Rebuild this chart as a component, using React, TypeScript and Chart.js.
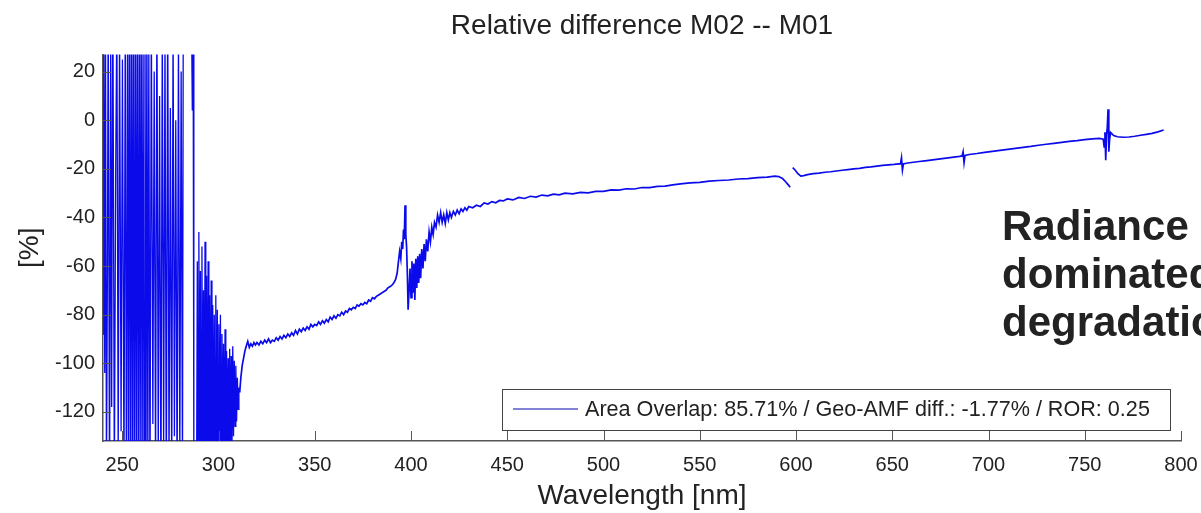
import React, { useEffect, useRef } from 'react';
import { Chart, registerables } from 'chart.js';

Chart.register(...registerables);

const chartTitle = 'Relative difference M02 -- M01';
const xAxisTitle = 'Wavelength [nm]';
const yAxisTitle = '[%]';
const seriesLabel = 'Area Overlap: 85.71% / Geo-AMF diff.: -1.77% / ROR: 0.25';
const overlayLines = ['Radiance', 'dominated', 'degradation'];

const xMin = 240;
const xMax = 800;
const yMin = -132;
const yMax = 27;
const xTicks = [250, 300, 350, 400, 450, 500, 550, 600, 650, 700, 750, 800];
const yTicks = [-120, -100, -80, -60, -40, -20, 0, 20];

// [wavelength nm, relative difference %]
const uvNoise: [number, number | null][] = [
  [240.0, -88], [240.4, 45], [240.9, -104], [241.3, 38], [241.8, -150], [242.3, -60], [242.7, 50],
  [243.4, -160], [244.0, 30], [244.5, -118], [245.1, 60], [245.9, -150], [246.6, -20], [247.2, 45],
  [247.9, -140], [248.6, 40], [249.4, -128], [250.1, 25], [250.9, -150], [251.6, 55], [252.2, -170],
  [252.8, 40], [253.3, -135], [253.8, 60], [254.3, -160], [254.8, 50], [255.3, -150], [255.8, 65],
  [256.3, -170], [256.8, 45], [257.3, -140], [257.8, 60], [258.3, -165], [258.8, 50], [259.3, -150],
  [259.8, 70], [260.3, -160], [260.8, 40], [261.3, -140], [261.8, 55], [262.3, -170], [262.8, 50],
  [263.3, -150], [263.8, 30], [264.4, -160], [265.1, 45], [265.9, -125], [266.6, 20], [267.3, -150],
  [268.0, 50], [268.7, -140], [269.4, 10], [270.1, -160], [270.8, 40], [271.5, -135], [272.2, 35],
  [272.9, -160], [273.6, 55], [274.3, -145], [275.0, 5], [275.7, -150], [276.4, 40], [277.1, -130],
  [277.8, 0], [278.5, -155], [279.2, 35], [279.9, -140], [280.6, 20], [281.3, -150], [281.7, 50],
  [285.9, 50], [286.4, 4], [286.8, 50], [287.2, -150], [288.6, -150], [289.0, -58], [289.4, -150],
  [289.8, -46], [290.2, -160], [290.6, -62], [291.0, -150], [291.4, -52], [291.8, -155], [292.2, -70],
  [292.6, -150], [293.0, -50], [293.4, -145], [293.8, -64], [294.2, -160], [294.6, -58], [295.0, -145],
  [295.4, -72], [295.8, -155], [296.2, -66], [296.6, -150], [297.0, -76], [297.4, -160], [297.8, -80],
  [298.2, -145], [298.6, -72], [299.0, -150], [299.4, -78], [299.8, -155], [300.2, -84], [300.6, -145],
  [301.0, -80], [301.4, -150], [301.8, -88], [302.2, -140], [302.6, -92], [303.0, -150], [303.4, -86],
  [303.8, -145], [304.2, -95], [304.6, -140], [305.0, -98], [305.4, -145], [305.8, -94], [306.2, -138],
  [306.6, -97], [307.0, -135], [307.4, -93], [307.8, -130], [308.2, -99], [308.6, -126], [309.0, -101],
  [309.4, -124], [309.8, -106], [310.2, -119], [310.6, -110],
];

const hartleyRise: [number, number | null][] = [
  [311, -112], [311.6, -106], [312.3, -101], [313, -98], [313.7, -95], [314.4, -93], [315.2, -91],
  [316, -93.5], [316.8, -92], [317.6, -93], [318.4, -91.5], [319.2, -92.5], [320, -91.5], [321, -92.5],
  [322, -91], [323, -92], [324, -90.5], [325, -91.5], [326, -90], [327, -91.5], [328, -90.5], [329, -91],
  [330, -89.5], [331, -90.5], [332, -89], [333, -90], [334, -88.5], [335, -89.5], [336, -88], [337, -89],
  [338, -87.5], [339, -88.5], [340, -86.5], [341, -88], [342, -86], [343, -87], [344, -85.5], [345, -86.5],
  [346, -85], [347, -86], [348, -84], [349, -85], [350, -84], [351, -84.5], [352, -83], [353, -84],
  [354, -82.5], [355, -83.5], [356, -82], [357, -83], [358, -81], [359, -82], [360, -80.5], [361, -81.5],
  [362, -80], [363, -80.5], [364, -79], [365, -80], [366, -78.5], [367, -79], [368, -77.5], [369, -78],
  [370, -77], [371, -77.5], [372, -76], [373, -76.5], [374, -75.5], [375, -76], [376, -75], [377, -75.5],
  [378, -74], [379, -74.5], [380, -73], [381, -73.5], [382, -72.5], [383, -72], [384, -71.5], [385, -71],
  [386, -70.5], [387, -70], [388, -69], [389, -68.5], [390, -68], [391, -67], [392, -65.5], [392.8, -63],
  [393.5, -58], [394.1, -54], [394.7, -57], [395.2, -50], [395.7, -53], [396.1, -45], [396.5, -49],
  [396.9, -35], [397.3, -47], [397.7, -52], [398.1, -63], [398.5, -78],
];

const blueBand: [number, number | null][] = [
  [399.0, -70], [399.5, -61], [400.0, -73], [400.5, -58], [401.0, -71], [401.5, -59], [402.0, -74],
  [402.5, -57], [403.0, -69], [403.5, -56], [404.0, -67], [404.5, -55], [405.0, -65], [405.6, -53],
  [406.2, -61], [406.8, -51], [407.4, -58], [408.0, -49], [408.7, -54], [409.4, -46], [410.1, -50],
  [410.8, -44], [411.5, -47], [412.2, -42], [413.0, -44], [413.8, -39], [414.6, -42], [415.4, -38],
  [416.2, -42], [417.0, -39], [417.8, -42.5], [418.6, -38], [419.4, -41], [420.2, -38], [421, -40],
  [422, -37.5], [423, -39], [424, -37], [425, -38.5], [426, -36.5], [427, -37.5], [428, -36], [429, -37],
  [430, -35.5], [432, -36], [434, -35], [436, -35.5], [438, -34], [440, -34.5], [442, -33.5], [444, -34],
  [446, -33], [448, -33.2], [450, -32.4], [453, -32.8], [456, -31.8], [459, -32.2], [462, -31.3], [465, -31.6],
  [468, -30.8], [471, -31.1], [474, -30.4], [477, -30.7], [480, -30], [484, -30.3], [488, -29.7],
  [492, -29.9], [496, -29.3], [500, -29.3], [504, -28.7], [508, -28.8], [512, -28.2], [516, -28.3],
  [520, -27.7], [524, -27.7], [528, -27.2], [532, -27.1], [536, -26.6], [540, -26.2], [545, -25.8],
  [550, -25.6], [555, -25.1], [560, -24.8], [565, -24.6], [570, -24.2], [575, -24], [580, -23.6],
  [585, -23.4], [589, -23], [591, -23.2], [593, -24], [594.5, -25.2], [596, -26.6], [597, -27.6],
  [597.5, null],
];

const redBand: [number, number | null][] = [
  [598.3, -19.5], [599.5, -20.5], [601, -22], [602.5, -23], [604, -22.8], [606, -22.4], [609, -22],
  [612, -21.8], [615, -21.4], [618, -21.2], [621, -20.9], [624, -20.6], [627, -20.3], [630, -20],
  [633, -19.8], [636, -19.4], [639, -19.2], [642, -18.9], [645, -18.6], [648, -18.4], [651, -18.2],
  [654.3, -17.9], [654.8, -15.5], [655.3, -20.5], [655.8, -18], [658, -17.6], [661, -17.3], [664, -17],
  [667, -16.7], [670, -16.4], [673, -16.1], [676, -15.8], [679, -15.5], [682, -15.2], [685, -14.9],
  [686.3, -14.7], [686.8, -13], [687.3, -17.5], [687.8, -14.5], [690, -14.1], [694, -13.7], [698, -13.2],
  [702, -12.8], [706, -12.4], [710, -12], [714, -11.6], [718, -11.2], [722, -10.8], [726, -10.3],
  [730, -9.9], [734, -9.5], [738, -9.1], [742, -8.7], [746, -8.4], [750, -8], [754, -7.7], [757.5, -7.5],
  [759.6, -7.8], [760.1, -11], [760.5, -5], [760.9, -16.5], [761.3, -6], [761.7, -3], [762.1, 4.5],
  [762.5, -13], [762.9, -8], [763.4, -5], [764, -5.5], [765, -6.3], [767, -6.8], [770, -7], [773, -6.9],
  [776, -6.6], [779, -6.2], [782, -5.8], [785, -5.4], [788, -4.8], [791, -4],
];

const FONT = '"Liberation Sans", Arial, Helvetica, sans-serif';

const decorPlugin = {
  id: 'decor',
  afterDraw(chart: any) {
    const { ctx, chartArea, scales } = chart;
    const xs = scales.x;
    const ys = scales.y;
    ctx.save();
    // inward tick marks
    ctx.strokeStyle = '#555';
    ctx.lineWidth = 1;
    ctx.beginPath();
    xTicks.forEach((v) => {
      const px = Math.round(xs.getPixelForValue(v)) + 0.5;
      ctx.moveTo(px, chartArea.bottom);
      ctx.lineTo(px, chartArea.bottom - 10);
    });
    yTicks.forEach((v) => {
      const py = Math.round(ys.getPixelForValue(v)) + 0.5;
      ctx.moveTo(chartArea.left, py);
      ctx.lineTo(chartArea.left + 8, py);
    });
    ctx.stroke();

    // legend box
    const bx = 502;
    const by = 389;
    const bw = 668;
    const bh = 41;
    ctx.fillStyle = '#ffffff';
    ctx.fillRect(bx, by, bw, bh);
    ctx.strokeStyle = '#444';
    ctx.lineWidth = 1;
    ctx.strokeRect(bx + 0.5, by + 0.5, bw, bh);
    ctx.strokeStyle = '#8282d6';
    ctx.lineWidth = 2;
    ctx.beginPath();
    ctx.moveTo(513, 409);
    ctx.lineTo(578, 409);
    ctx.stroke();
    ctx.fillStyle = '#222';
    ctx.font = '21.6px ' + FONT;
    ctx.textBaseline = 'middle';
    ctx.textAlign = 'left';
    ctx.fillText(seriesLabel, 585, 410);

    // slide overlay text
    ctx.font = 'bold 42px ' + FONT;
    ctx.textBaseline = 'alphabetic';
    ctx.fillStyle = '#222';
    overlayLines.forEach((t, i) => ctx.fillText(t, 1002, 240 + i * 48));
    ctx.restore();
  },
};

export default function App() {
  const canvasRef = useRef<HTMLCanvasElement | null>(null);

  useEffect(() => {
    const canvas = canvasRef.current;
    if (!canvas) return;
    const points = [...uvNoise, ...hartleyRise, ...blueBand, ...redBand].map(([x, y]) => ({ x, y }));
    const chart = new Chart(canvas, {
      type: 'line',
      data: {
        datasets: [
          {
            label: seriesLabel,
            data: points as any,
            borderColor: 'rgb(10,10,235)',
            borderWidth: 1.6,
            pointRadius: 0,
            tension: 0,
            spanGaps: false,
            segment: {
              borderWidth: (c: any) => (c.p0.parsed.x < 311 ? 1.3 : 1.7),
            },
          },
        ],
      },
      plugins: [decorPlugin],
      options: {
        responsive: false,
        animation: false,
        layout: { padding: { left: 0, right: 20, top: 0, bottom: 0 } },
        plugins: {
          legend: { display: false },
          tooltip: { enabled: false },
          title: {
            display: true,
            text: chartTitle,
            fullSize: false,
            color: '#222',
            font: { family: FONT, size: 28, weight: 'normal' },
            padding: { top: 9, bottom: 12 },
          },
        },
        scales: {
          x: {
            type: 'linear',
            min: xMin,
            max: xMax,
            afterBuildTicks: (s: any) => {
              s.ticks = xTicks.map((v) => ({ value: v }));
            },
            afterFit: (s: any) => {
              s.height = 72;
              s.paddingRight = 0;
              s.paddingLeft = 0;
            },
            ticks: {
              color: '#222',
              font: { family: FONT, size: 20 },
              padding: 12,
              maxRotation: 0,
              autoSkip: false,
            },
            grid: { display: true, drawOnChartArea: false, drawTicks: false },
            border: { display: true, color: '#555', width: 1.5 },
            title: {
              display: true,
              text: xAxisTitle,
              color: '#222',
              font: { family: FONT, size: 28 },
              padding: { top: 0, bottom: 0 },
            },
          },
          y: {
            type: 'linear',
            min: yMin,
            max: yMax,
            afterBuildTicks: (s: any) => {
              s.ticks = yTicks.map((v) => ({ value: v }));
            },
            afterFit: (s: any) => {
              s.width = 103;
            },
            ticks: {
              color: '#222',
              font: { family: FONT, size: 20 },
              padding: 8,
              autoSkip: false,
            },
            grid: { display: true, drawOnChartArea: false, drawTicks: false },
            border: { display: true, color: '#555', width: 1.5 },
            title: {
              display: true,
              text: yAxisTitle,
              color: '#222',
              font: { family: FONT, size: 28 },
              padding: { top: 13, bottom: 0 },
            },
          },
        },
      } as any,
    });
    return () => chart.destroy();
  }, []);

  return (
    <div style={{ position: 'fixed', left: 0, top: 0, width: 1201, height: 513, background: '#fff' }}>
      <canvas ref={canvasRef} width={1201} height={513} style={{ display: 'block' }} />
    </div>
  );
}
